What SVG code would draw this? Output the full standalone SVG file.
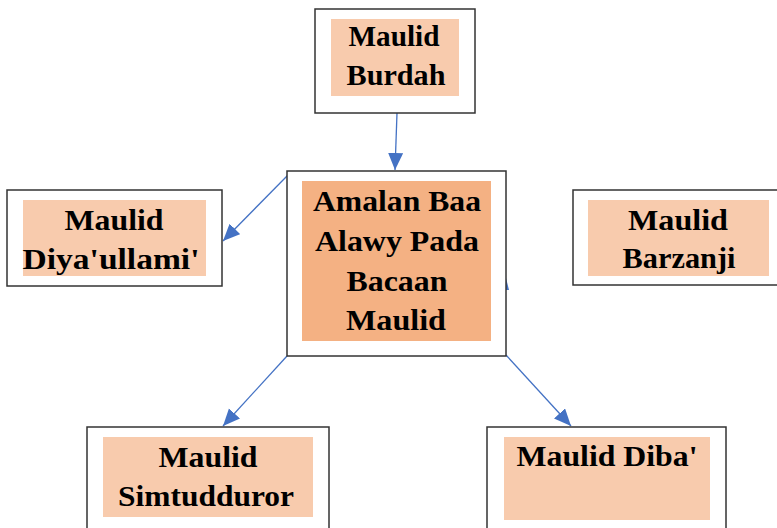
<svg xmlns="http://www.w3.org/2000/svg" width="777" height="528" viewBox="0 0 777 528">
  <defs>
    <style>
      .frame { fill: #ffffff; stroke: #333333; stroke-width: 1.5; }
      .pad { fill: #F8CBAD; }
      .core { fill: #F4B183; }
      .lbl { font-family: "Liberation Serif", "Times New Roman", serif; font-weight: bold; font-size: 30px; fill: #000000; text-anchor: middle; }
      .sm { font-size: 28.5px; }
      .link { stroke: #4472C4; stroke-width: 1.3; fill: none; marker-end: url(#head); }
    </style>
    <marker id="head" markerUnits="userSpaceOnUse" markerWidth="18" markerHeight="16" refX="17" refY="7.5" orient="auto">
      <path d="M0,0 L17,7.5 L0,15 Z" fill="#4472C4"/>
    </marker>
  </defs>

  <rect width="777" height="528" fill="#ffffff"/>

  <!-- connectors -->
  <g id="connectors">
    <line class="link" x1="397" y1="113" x2="395" y2="170"/>
    <line class="link" x1="288" y1="175" x2="223" y2="241"/>
    <line class="link" x1="287" y1="356" x2="223" y2="426"/>
    <line class="link" x1="506" y1="355" x2="571" y2="426"/>
    <polygon points="506,278 509,290 506,290" fill="#4472C4"/>
  </g>

  <g id="node-burdah">
    <rect class="frame" x="315" y="9" width="160" height="104"/>
    <rect class="pad" x="331" y="19" width="128" height="77"/>
    <text class="lbl sm" x="394" y="46" textLength="91" lengthAdjust="spacingAndGlyphs">Maulid</text>
    <text class="lbl sm" x="396" y="85" textLength="99" lengthAdjust="spacingAndGlyphs">Burdah</text>
  </g>

  <g id="node-center">
    <rect class="frame" x="287" y="171" width="219" height="185"/>
    <rect class="core" x="302" y="181" width="189" height="160"/>
    <text class="lbl" x="397" y="211" textLength="168" lengthAdjust="spacingAndGlyphs">Amalan Baa</text>
    <text class="lbl" x="397" y="251" textLength="164" lengthAdjust="spacingAndGlyphs">Alawy Pada</text>
    <text class="lbl" x="397" y="291" textLength="101" lengthAdjust="spacingAndGlyphs">Bacaan</text>
    <text class="lbl" x="396" y="330" textLength="100" lengthAdjust="spacingAndGlyphs">Maulid</text>
  </g>

  <g id="node-diyaullami">
    <rect class="frame" x="7" y="190" width="215" height="96"/>
    <rect class="pad" x="23" y="200" width="183" height="76"/>
    <text class="lbl" x="114" y="230" textLength="99" lengthAdjust="spacingAndGlyphs">Maulid</text>
    <text class="lbl" x="111" y="269" textLength="177" lengthAdjust="spacingAndGlyphs">Diya'ullami'</text>
  </g>

  <g id="node-barzanji">
    <rect class="frame" x="573" y="190" width="210" height="95"/>
    <rect class="pad" x="588" y="200" width="181" height="76"/>
    <text class="lbl" x="678" y="230" textLength="100" lengthAdjust="spacingAndGlyphs">Maulid</text>
    <text class="lbl" x="679" y="268" textLength="113" lengthAdjust="spacingAndGlyphs">Barzanji</text>
  </g>

  <g id="node-simtudduror">
    <rect class="frame" x="87" y="427" width="242" height="110"/>
    <rect class="pad" x="103" y="437" width="210" height="80"/>
    <text class="lbl" x="208" y="467" textLength="99" lengthAdjust="spacingAndGlyphs">Maulid</text>
    <text class="lbl" x="206" y="506" textLength="176" lengthAdjust="spacingAndGlyphs">Simtudduror</text>
  </g>

  <g id="node-diba">
    <rect class="frame" x="487" y="427" width="239" height="110"/>
    <rect class="pad" x="504" y="437" width="206" height="83"/>
    <text class="lbl" x="607" y="466" textLength="181" lengthAdjust="spacingAndGlyphs">Maulid Diba'</text>
  </g>
</svg>
